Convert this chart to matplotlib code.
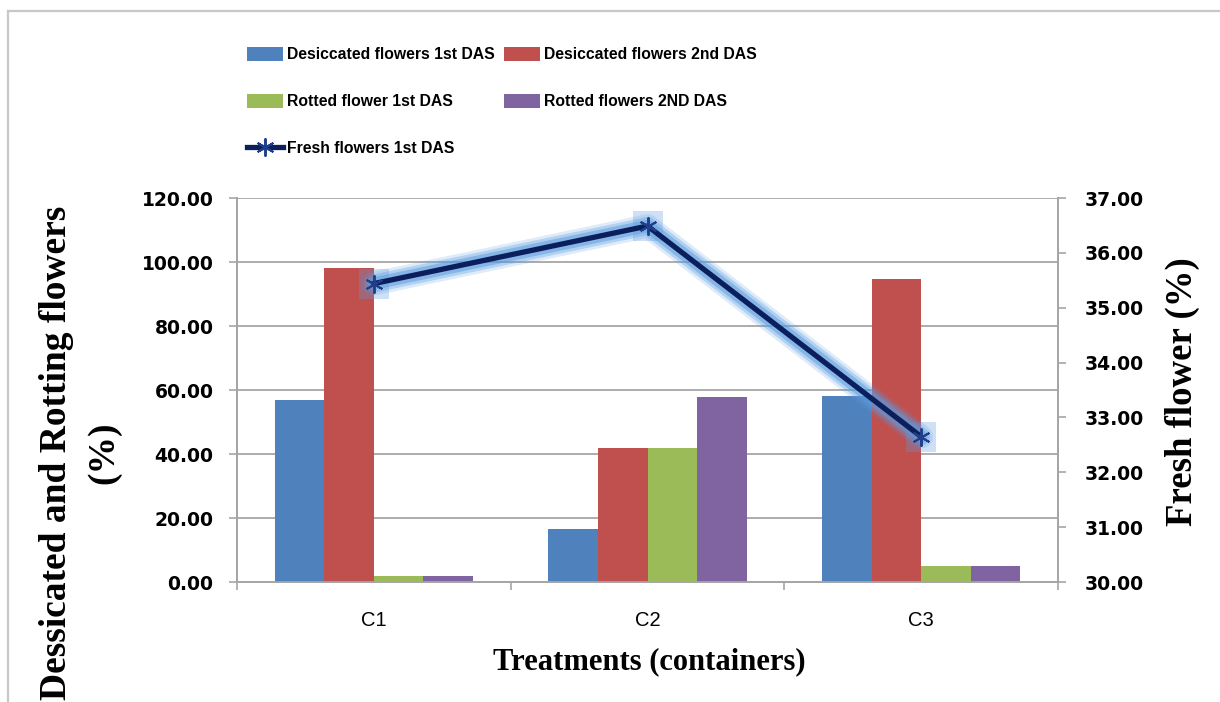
import matplotlib
matplotlib.use("Agg")
import matplotlib.pyplot as plt
import numpy as np
from matplotlib.lines import Line2D

# Datos
categorias = ["C1", "C2", "C3"]
desecadas_1er = [57.0, 16.7, 58.2]
desecadas_2do = [98.0, 42.0, 94.8]
podridas_1er = [2.0, 42.0, 5.1]
podridas_2do = [2.0, 57.7, 5.1]
frescas_1er = [35.44, 36.49, 32.65]

etiquetas = ["Desiccated flowers 1st DAS", "Desiccated flowers 2nd DAS",
             "Rotted flower 1st DAS", "Rotted flowers 2ND DAS", "Fresh flowers 1st DAS"]
colores = ["#4F81BD", "#C0504D", "#9BBB59", "#8064A2"]

gris = "#A6A6A6"
fuente_ticks = "DejaVu Sans"
fuente_leyenda = "Liberation Sans"
fuente_titulos = "Liberation Serif"

fig = plt.figure(figsize=(12.2, 7.02), dpi=100)
ax = fig.add_axes([0.1943, 0.1709, 0.6729, 0.547])
ax2 = ax.twinx()

x = np.arange(len(categorias))
w = 0.181
series = [desecadas_1er, desecadas_2do, podridas_1er, podridas_2do]
barras = []
for i, (vals, col) in enumerate(zip(series, colores)):
    b = ax.bar(x + (i - 1.5) * w, vals, width=w, color=col, zorder=3, label=etiquetas[i])
    barras.append(b)

ax.set_xlim(-0.5, 2.5)
ax.set_ylim(0, 120)
ax.set_yticks(np.arange(0, 121, 20))
ax.set_yticklabels([f"{v:.2f}" for v in np.arange(0, 121, 20)])
ax.yaxis.grid(True, color=gris, linewidth=1.3, zorder=0)
ax.set_axisbelow(True)

# Ticks del eje x: separadores entre categorías y etiquetas en el centro
ax.set_xticks([-0.5, 0.5, 1.5, 2.5])
ax.set_xticklabels([])
ax.set_xticks(x, minor=True)
ax.set_xticklabels(categorias, minor=True, fontsize=14.5, family=fuente_leyenda)
ax.tick_params(axis="x", which="major", length=6, color=gris, width=1.2)
ax.tick_params(axis="x", which="minor", length=0, pad=21)
ax.tick_params(axis="y", length=6, color=gris, width=1.2, pad=11)
for lab in ax.get_yticklabels():
    lab.set_fontfamily(fuente_ticks)
    lab.set_fontweight("bold")
    lab.set_fontsize(13.5)

for s in ["top"]:
    ax.spines[s].set_visible(False)
    ax2.spines[s].set_visible(False)
for s in ["left", "bottom", "right"]:
    ax.spines[s].set_color(gris)
    ax.spines[s].set_linewidth(1.3)
    ax2.spines[s].set_color(gris)
    ax2.spines[s].set_linewidth(1.3)

# Eje derecho: flores frescas
ax2.set_ylim(30, 37)
ax2.set_yticks(np.arange(30, 37.1, 1))
ax2.set_yticklabels([f"{v:.2f}" for v in np.arange(30, 37.1, 1)])
ax2.tick_params(axis="y", length=6, color=gris, width=1.2, pad=13)
for lab in ax2.get_yticklabels():
    lab.set_fontfamily(fuente_ticks)
    lab.set_fontweight("bold")
    lab.set_fontsize(13.5)

# Brillo alrededor de la línea
for lw, a in [(17, 0.2), (13, 0.32), (9, 0.5)]:
    ax2.plot(x, frescas_1er, color="#5B9BE0", linewidth=lw, alpha=a,
             solid_capstyle="round", solid_joinstyle="round", zorder=4)
ax2.plot(x, frescas_1er, linestyle="none", marker="s", markersize=21,
         color="#5B9BE0", alpha=0.3, markeredgewidth=0, zorder=4)
linea, = ax2.plot(x, frescas_1er, color="#0A1F5C", linewidth=3.8, zorder=5,
                  marker=(6, 2, 0), markersize=13, markeredgecolor="#1F3F8A",
                  markeredgewidth=1.4, label=etiquetas[4])

# Títulos de ejes
fig.text(0.046, 0.355, "Dessicated and Rotting flowers", rotation=90, ha="center", va="center",
         fontsize=27, fontweight="bold", family=fuente_titulos)
fig.text(0.085, 0.355, "(%)", rotation=90, ha="center", va="center",
         fontsize=27, fontweight="bold", family=fuente_titulos)
fig.text(0.969, 0.442, "Fresh flower (%)", rotation=90, ha="center", va="center",
         fontsize=26.5, fontweight="bold", family=fuente_titulos)
fig.text(0.532, 0.057, "Treatments (containers)", ha="center", va="center",
         fontsize=22, fontweight="bold", family=fuente_titulos)

# Leyenda (orden por columnas para que quede como en el original)
manejadores = [barras[0], barras[2], linea, barras[1], barras[3]]
textos = [etiquetas[0], etiquetas[2], etiquetas[4], etiquetas[1], etiquetas[3]]
leg = fig.legend(manejadores, textos, loc="upper left", bbox_to_anchor=(0.2025, 0.933),
                 ncol=2, frameon=False, prop={"family": fuente_leyenda, "weight": "bold", "size": 11.3},
                 handlelength=2.3, handleheight=1.0, handletextpad=0.25, columnspacing=0.6,
                 labelspacing=2.0, borderaxespad=0, borderpad=0)

# Borde exterior del gráfico
fig.add_artist(Line2D([8 / 1220, 8 / 1220], [0, 1 - 11 / 702], transform=fig.transFigure,
                      color="#C8C8C8", linewidth=1.6))
fig.add_artist(Line2D([8 / 1220, 1], [1 - 11 / 702, 1 - 11 / 702], transform=fig.transFigure,
                      color="#C8C8C8", linewidth=1.6))

fig.savefig("out.png", dpi=100)
